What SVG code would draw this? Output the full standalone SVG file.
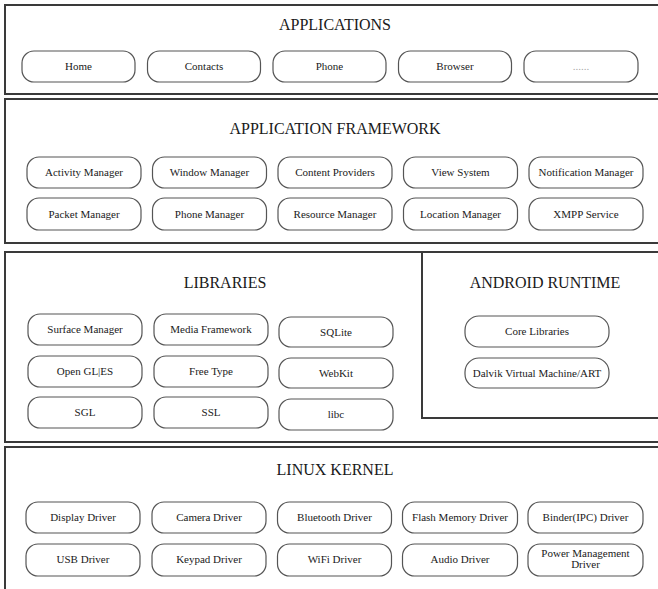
<svg xmlns="http://www.w3.org/2000/svg" width="658" height="589" viewBox="0 0 658 589">
  <style>
    .layer { fill: #fff; stroke: #3a3a3a; stroke-width: 2; }
    .title { font-family: 'Liberation Serif', 'Times New Roman', serif; font-size: 16px; fill: #1a1a1a; text-anchor: middle; }
    .node rect { fill: #fff; stroke: #555; stroke-width: 1.2; }
    .node text { font-family: 'Liberation Serif', 'Times New Roman', serif; font-size: 11px; fill: #1a1a1a; text-anchor: middle; }
    .node text.faint { fill: #aaa; }
  </style>
  <rect width="658" height="589" fill="#fff"/>

  <!-- layers -->
  <g id="layer-applications">
    <rect class="layer" x="5" y="5" width="670" height="89"/>
    <text class="title" x="335" y="30">APPLICATIONS</text>
  </g>
  <g id="layer-framework">
    <rect class="layer" x="5" y="99" width="670" height="144"/>
    <text class="title" x="335" y="134">APPLICATION FRAMEWORK</text>
  </g>
  <g id="layer-libraries">
    <rect class="layer" x="5" y="252" width="670" height="190"/>
    <text class="title" x="225" y="288">LIBRARIES</text>
  </g>
  <g id="layer-runtime">
    <rect class="layer" x="422" y="252" width="250" height="166"/>
    <text class="title" x="545" y="288">ANDROID RUNTIME</text>
  </g>
  <g id="layer-kernel">
    <rect class="layer" x="5" y="447" width="670" height="160"/>
    <text class="title" x="335" y="475">LINUX KERNEL</text>
  </g>

  <!-- applications -->
  <g id="app-home" class="node"><rect x="22" y="51" width="113" height="31" rx="12"/><text x="78.5" y="70">Home</text></g>
  <g id="app-contacts" class="node"><rect x="147.5" y="51" width="113" height="31" rx="12"/><text x="204" y="70">Contacts</text></g>
  <g id="app-phone" class="node"><rect x="273" y="51" width="113" height="31" rx="12"/><text x="329.5" y="70">Phone</text></g>
  <g id="app-browser" class="node"><rect x="398.5" y="51" width="113" height="31" rx="12"/><text x="455" y="70">Browser</text></g>
  <g id="app-more" class="node"><rect x="524" y="51" width="114" height="31" rx="12"/><text class="faint" x="581" y="70">......</text></g>

  <!-- application framework -->
  <g id="fw-activity" class="node"><rect x="27" y="157" width="114" height="31" rx="12"/><text x="84" y="176">Activity Manager</text></g>
  <g id="fw-window" class="node"><rect x="152.5" y="157" width="114" height="31" rx="12"/><text x="209.5" y="176">Window Manager</text></g>
  <g id="fw-content" class="node"><rect x="278" y="157" width="114" height="31" rx="12"/><text x="335" y="176">Content Providers</text></g>
  <g id="fw-view" class="node"><rect x="403.5" y="157" width="114" height="31" rx="12"/><text x="460.5" y="176">View System</text></g>
  <g id="fw-notification" class="node"><rect x="529" y="157" width="114" height="31" rx="12"/><text x="586" y="176">Notification Manager</text></g>
  <g id="fw-packet" class="node"><rect x="27" y="198" width="114" height="32" rx="12"/><text x="84" y="218">Packet Manager</text></g>
  <g id="fw-phone" class="node"><rect x="152.5" y="198" width="114" height="32" rx="12"/><text x="209.5" y="218">Phone Manager</text></g>
  <g id="fw-resource" class="node"><rect x="278" y="198" width="114" height="32" rx="12"/><text x="335" y="218">Resource Manager</text></g>
  <g id="fw-location" class="node"><rect x="403.5" y="198" width="114" height="32" rx="12"/><text x="460.5" y="218">Location Manager</text></g>
  <g id="fw-xmpp" class="node"><rect x="529" y="198" width="114" height="32" rx="12"/><text x="586" y="218">XMPP Service</text></g>

  <!-- libraries -->
  <g id="lib-surface" class="node"><rect x="28" y="314" width="114" height="31" rx="12"/><text x="85" y="333">Surface Manager</text></g>
  <g id="lib-media" class="node"><rect x="154" y="314" width="114" height="31" rx="12"/><text x="211" y="333">Media Framework</text></g>
  <g id="lib-sqlite" class="node"><rect x="279" y="317" width="114" height="30" rx="12"/><text x="336" y="336">SQLite</text></g>
  <g id="lib-opengl" class="node"><rect x="28" y="356" width="114" height="31" rx="12"/><text x="85" y="375">Open GL|ES</text></g>
  <g id="lib-freetype" class="node"><rect x="154" y="356" width="114" height="31" rx="12"/><text x="211" y="375">Free Type</text></g>
  <g id="lib-webkit" class="node"><rect x="279" y="358" width="114" height="30" rx="12"/><text x="336" y="377">WebKit</text></g>
  <g id="lib-sgl" class="node"><rect x="28" y="397" width="114" height="31" rx="12"/><text x="85" y="416">SGL</text></g>
  <g id="lib-ssl" class="node"><rect x="154" y="397" width="114" height="31" rx="12"/><text x="211" y="416">SSL</text></g>
  <g id="lib-libc" class="node"><rect x="279" y="399" width="114" height="31" rx="12"/><text x="336" y="418">libc</text></g>

  <!-- android runtime -->
  <g id="rt-core" class="node"><rect x="465" y="316" width="144" height="31" rx="14"/><text x="537" y="335">Core Libraries</text></g>
  <g id="rt-dalvik" class="node"><rect x="465" y="358" width="144" height="30" rx="14"/><text x="537" y="377">Dalvik Virtual Machine/ART</text></g>

  <!-- linux kernel -->
  <g id="k-display" class="node"><rect x="26" y="502" width="114" height="31" rx="12"/><text x="83" y="521">Display Driver</text></g>
  <g id="k-camera" class="node"><rect x="152" y="502" width="114" height="31" rx="12"/><text x="209" y="521">Camera Driver</text></g>
  <g id="k-bluetooth" class="node"><rect x="277.5" y="502" width="114" height="31" rx="12"/><text x="334.5" y="521">Bluetooth Driver</text></g>
  <g id="k-flash" class="node"><rect x="402.5" y="502" width="115" height="31" rx="12"/><text x="460" y="521">Flash Memory Driver</text></g>
  <g id="k-binder" class="node"><rect x="528" y="502" width="115" height="31" rx="12"/><text x="585.5" y="521">Binder(IPC) Driver</text></g>
  <g id="k-usb" class="node"><rect x="26" y="544" width="114" height="32" rx="12"/><text x="83" y="563">USB Driver</text></g>
  <g id="k-keypad" class="node"><rect x="152" y="544" width="114" height="32" rx="12"/><text x="209" y="563">Keypad Driver</text></g>
  <g id="k-wifi" class="node"><rect x="277.5" y="544" width="114" height="32" rx="12"/><text x="334.5" y="563">WiFi Driver</text></g>
  <g id="k-audio" class="node"><rect x="402.5" y="544" width="115" height="32" rx="12"/><text x="460" y="563">Audio Driver</text></g>
  <g id="k-power" class="node"><rect x="528" y="544" width="115" height="32" rx="12"/><text x="585.5" y="557">Power Management</text><text x="585.5" y="568">Driver</text></g>

  <!-- no connectors in this layered diagram -->
  <g id="connectors"/>
</svg>
